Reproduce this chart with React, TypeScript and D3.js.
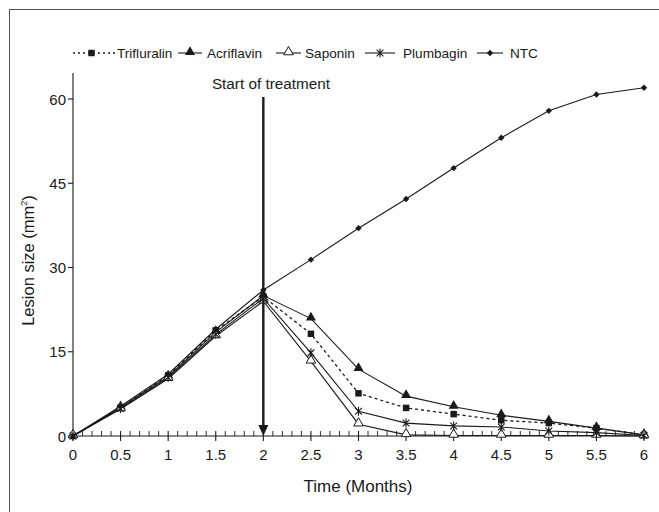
import React from "react";
import * as d3 from "d3";

// ---------------------------------------------------------------------------
// Data (lesion size in mm²)
// ---------------------------------------------------------------------------

const months = [0, 0.5, 1, 1.5, 2, 2.5, 3, 3.5, 4, 4.5, 5, 5.5, 6];

const trifluralin = [0, 5.0, 10.8, 18.8, 24.8, 18.2, 7.6, 5.0, 3.9, 2.8, 2.3, 1.4, 0.2];
const acriflavin = [0, 5.1, 10.6, 18.5, 25.0, 20.9, 11.9, 7.1, 5.2, 3.7, 2.6, 1.4, 0.2];
const saponin = [0, 4.8, 10.2, 17.8, 24.0, 13.3, 2.1, 0.2, 0.1, 0.1, 0.1, 0.1, 0.0];
const plumbagin = [0, 4.9, 10.4, 18.1, 24.5, 14.8, 4.4, 2.3, 1.8, 1.6, 0.9, 0.6, 0.1];
const ntc = [0, 5.3, 11.0, 19.0, 26.0, 31.4, 37.0, 42.2, 47.7, 53.1, 57.9, 60.8, 62.0];

const yTicks = [0, 15, 30, 45, 60];
const xTicks = [0, 0.5, 1, 1.5, 2, 2.5, 3, 3.5, 4, 4.5, 5, 5.5, 6];
const treatmentStart = 2;

type Marker = "square" | "triangle" | "triangleOpen" | "asterisk" | "diamond";

const series: { name: string; values: number[]; marker: Marker; dashed: boolean }[] = [
  { name: "Trifluralin", values: trifluralin, marker: "square", dashed: true },
  { name: "Acriflavin", values: acriflavin, marker: "triangle", dashed: false },
  { name: "Saponin", values: saponin, marker: "triangleOpen", dashed: false },
  { name: "Plumbagin", values: plumbagin, marker: "asterisk", dashed: false },
  { name: "NTC", values: ntc, marker: "diamond", dashed: false },
];

// legend layout: sample start x, sample end x, text x
const legendPos = [
  [73, 116, 117],
  [178, 202, 207],
  [276, 301, 305],
  [365, 395, 403],
  [477, 503, 510],
];

// ---------------------------------------------------------------------------

const FONT = "Liberation Sans, Arial, sans-serif";
const INK = "#1a1a1a";

const x = d3.scaleLinear().domain([0, 6]).range([73, 644]);
const y = d3.scaleLinear().domain([0, 60]).range([436, 99]);

function MarkerShape({ type, cx, cy }: { type: Marker; cx: number; cy: number }) {
  const t = `translate(${cx},${cy})`;
  if (type === "square") {
    return <path transform={t} d={d3.symbol(d3.symbolSquare, 42)()!} fill={INK} />;
  }
  if (type === "triangle") {
    return <path transform={`translate(${cx},${cy - 1})`} d={d3.symbol(d3.symbolTriangle, 44)()!} fill={INK} />;
  }
  if (type === "triangleOpen") {
    return (
      <path
        transform={`translate(${cx},${cy - 1})`}
        d={d3.symbol(d3.symbolTriangle, 40)()!}
        fill="#fff"
        stroke={INK}
        strokeWidth={1}
      />
    );
  }
  if (type === "diamond") {
    return (
      <path
        transform={`${t} rotate(45)`}
        d={d3.symbol(d3.symbolSquare, 20)()!}
        fill={INK}
      />
    );
  }
  // asterisk
  const r = 4.5;
  const a = r * 0.75;
  return (
    <path
      transform={t}
      d={`M${-a},${-a}L${a},${a}M${-a},${a}L${a},${-a}M0,${-r}L0,${r}`}
      stroke={INK}
      strokeWidth={1.1}
      fill="none"
    />
  );
}

export default function App() {
  const line = d3
    .line<number>()
    .x((_d, i) => x(months[i]))
    .y((d) => y(d));

  const minorTicks = d3.range(0, 61).map((i) => i / 10).filter((v) => Math.round(v * 10) % 5 !== 0);

  const arrowX = x(treatmentStart);

  return (
    <svg
      width={659}
      height={512}
      style={{ position: "fixed", left: 0, top: 0, background: "#fff" }}
      fontFamily={FONT}
    >
      {/* outer frame (runs off the right and bottom edges) */}
      <rect x={9.5} y={9.5} width={680} height={540} fill="none" stroke="#555" strokeWidth={1} />

      {/* legend */}
      {series.map((s, i) => {
        const [x0, x1, tx] = legendPos[i];
        return (
          <g key={s.name}>
            <line
              x1={x0}
              x2={x1}
              y1={53}
              y2={53}
              stroke={INK}
              strokeWidth={s.dashed ? 1.6 : 1.1}
              strokeDasharray={s.dashed ? "2,3" : undefined}
            />
            <MarkerShape type={s.marker} cx={(x0 + x1) / 2 - (s.dashed ? 3 : 0)} cy={53} />
            <text x={tx} y={58} fontSize={13.6} fill={INK}>
              {s.name}
            </text>
          </g>
        );
      })}

      {/* y axis */}
      <line x1={x(0)} x2={x(0)} y1={y(0)} y2={73} stroke={INK} strokeWidth={1.1} />
      {yTicks.map((t) => (
        <g key={t}>
          <line x1={x(0) - 5} x2={x(0)} y1={y(t)} y2={y(t)} stroke={INK} strokeWidth={1.1} />
          <text x={x(0) - 7} y={y(t) + 5.5} textAnchor="end" fontSize={15} fill={INK}>
            {t}
          </text>
        </g>
      ))}
      <text
        transform={`translate(34,${(y(0) + 73) / 2 + 6}) rotate(-90)`}
        textAnchor="middle"
        fontSize={16.5}
        fill={INK}
      >
        Lesion size (mm
        <tspan fontSize={9} dy={-7}>
          2
        </tspan>
        <tspan dy={7}>)</tspan>
      </text>

      {/* x axis */}
      <line x1={x(0)} x2={x(6)} y1={y(0)} y2={y(0)} stroke={INK} strokeWidth={1.1} />
      {minorTicks.map((t) => (
        <line key={t} x1={x(t)} x2={x(t)} y1={y(0) - 5} y2={y(0)} stroke={INK} strokeWidth={0.9} />
      ))}
      {xTicks.map((t) => (
        <g key={t}>
          <line x1={x(t)} x2={x(t)} y1={y(0) - 5} y2={y(0) + 5} stroke={INK} strokeWidth={1.1} />
          <text x={x(t)} y={y(0) + 24} textAnchor="middle" fontSize={15} fill={INK}>
            {t}
          </text>
        </g>
      ))}
      <text x={358} y={492} textAnchor="middle" fontSize={17} fill={INK}>
        Time (Months)
      </text>

      {/* series */}
      {series.map((s) => (
        <g key={s.name}>
          <path
            d={line(s.values)!}
            fill="none"
            stroke={INK}
            strokeWidth={s.dashed ? 1.3 : 1.1}
            strokeDasharray={s.dashed ? "3,3" : undefined}
          />
          {s.values.map((v, i) => (
            <MarkerShape key={i} type={s.marker} cx={x(months[i])} cy={y(v)} />
          ))}
        </g>
      ))}

      {/* start of treatment arrow */}
      <line x1={arrowX} x2={arrowX} y1={97} y2={y(0) - 8} stroke={INK} strokeWidth={2.4} />
      <path
        d={`M${arrowX - 5},${y(0) - 11}L${arrowX + 5},${y(0) - 11}L${arrowX},${y(0)}Z`}
        fill={INK}
      />
      <text x={271} y={89} textAnchor="middle" fontSize={15.3} fill={INK}>
        Start of treatment
      </text>
    </svg>
  );
}
